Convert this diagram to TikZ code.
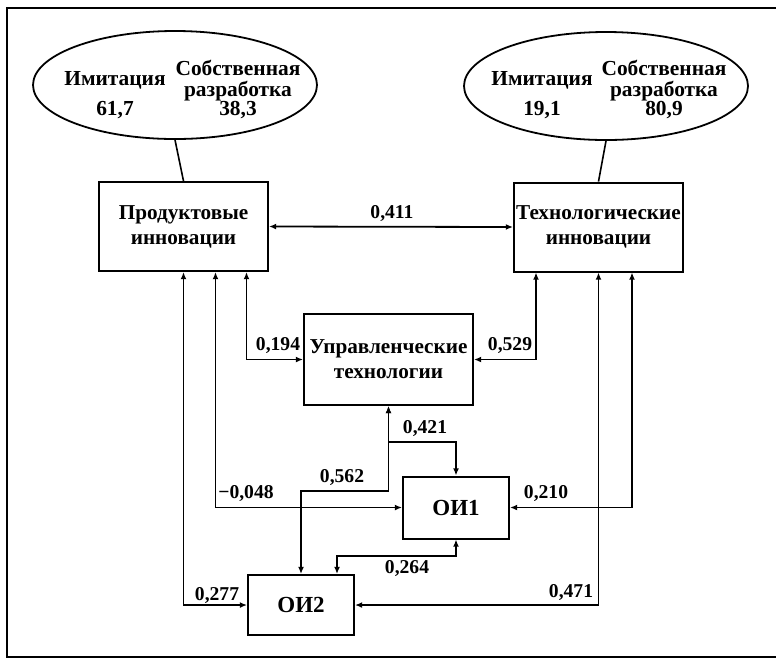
\documentclass[tikz,border=0pt]{standalone}
\usepackage{fontspec}
\setmainfont{Liberation Serif}
\usetikzlibrary{arrows.meta,positioning,calc,shapes.geometric}
\tikzset{
  bigbox/.style={rectangle, draw, line width=1pt, align=center,
                 font=\bfseries\fontsize{10.6}{12.5}\selectfont,
                 minimum width=84.5pt, minimum height=44.5pt, inner sep=1pt},
  smallbox/.style={rectangle, draw, line width=1pt, align=center,
                   font=\bfseries\fontsize{11.5}{13}\selectfont,
                   minimum width=53pt, minimum height=31pt},
  oval/.style={ellipse, draw, line width=0.9pt, minimum width=142pt, minimum height=54pt},
  txt/.style={font=\bfseries\fontsize{10.7}{12}\selectfont, inner sep=0pt},
  lbl/.style={font=\bfseries\fontsize{9.8}{11}\selectfont, inner sep=0pt},
  arr/.style={{Latex[length=3.6pt,width=3pt]}-{Latex[length=3.6pt,width=3pt]}, line width=0.9pt},
}

\begin{document}
\begin{tikzpicture}[x=0.5pt, y=-0.5pt]
    \useasboundingbox (0,0) rectangle (776,660);
    % frame
    \draw[line width=1.3pt] (776,8) -- (7,8) -- (7,657) -- (776,657);

    % ellipses
    \node[oval] (e1) at (175,85) {};
    \node[oval] (e2) at (606,86) {};
    \node[txt] (e1a) at (115,80) {Имитация};
    \node[txt] (e1b) at (238,68) {Собственная};
    \node[txt] (e1c) at (238,91) {разработка};
    \node[txt] (e1d) at (115,110) {61,7};
    \node[txt] (e1e) at (238,110) {38,3};
    \node[txt] (e2a) at (542,80) {Имитация};
    \node[txt] (e2b) at (664,68) {Собственная};
    \node[txt] (e2c) at (664,91) {разработка};
    \node[txt] (e2d) at (542,110) {19,1};
    \node[txt] (e2e) at (664,110) {80,9};

    % boxes
    \node[bigbox] (prod) at (183.5,226.5) {Продуктовые\\инновации};
    \node[bigbox] (tech) at (598.5,227) {Технологические\\инновации};
    \node[bigbox, minimum height=45.5pt] (upr) at (388.5,359.5) {Управленческие\\технологии};
    \node[smallbox] (oi1) at (456,507.5) {ОИ1};
    \node[smallbox, minimum height=30pt] (oi2) at (301,605) {ОИ2};

    \draw[line width=0.8pt] (e1.south) -- (prod.north);
    \draw[line width=0.8pt] (e2.south) -- (tech.north);

    % links
    \draw[arr] (prod.east) -- (tech.west);
    \draw[arr] ($(prod.south)+(63,0)$) |- (upr.west);
    \draw[arr] ($(tech.south)+(-62.5,0)$) |- (upr.east);
    \draw[arr] ($(prod.south)+(32,0)$) |- (oi1.west);
    \draw[arr] ($(tech.south)+(33.5,0)$) |- (oi1.east);
    \draw[arr] (prod.south) |- (oi2.west);
    \draw[arr] (tech.south) |- (oi2.east);
    \draw[arr] (upr.south) -- ++(0,36) -| (oi1.north);
    \draw[arr] (upr.south) -- ++(0,85) -| (oi2.north);
    \draw[arr] ($(oi2.north)+(36,0)$) -- ++(0,-18) -| (oi1.south);

    % coefficients
    \node[lbl] (k1) at (392,213) {0,411};
    \node[lbl] (k2) at (278,345) {0,194};
    \node[lbl] (k3) at (510,345) {0,529};
    \node[lbl] (k4) at (425,428) {0,421};
    \node[lbl] (k5) at (342,477) {0,562};
    \node[lbl] (k6) at (246,493) {−0,048};
    \node[lbl] (k7) at (546,493) {0,210};
    \node[lbl] (k8) at (217,595) {0,277};
    \node[lbl] (k9) at (571,592) {0,471};
    \node[lbl] (k10) at (407,568) {0,264};
  \end{tikzpicture}
\end{document}
